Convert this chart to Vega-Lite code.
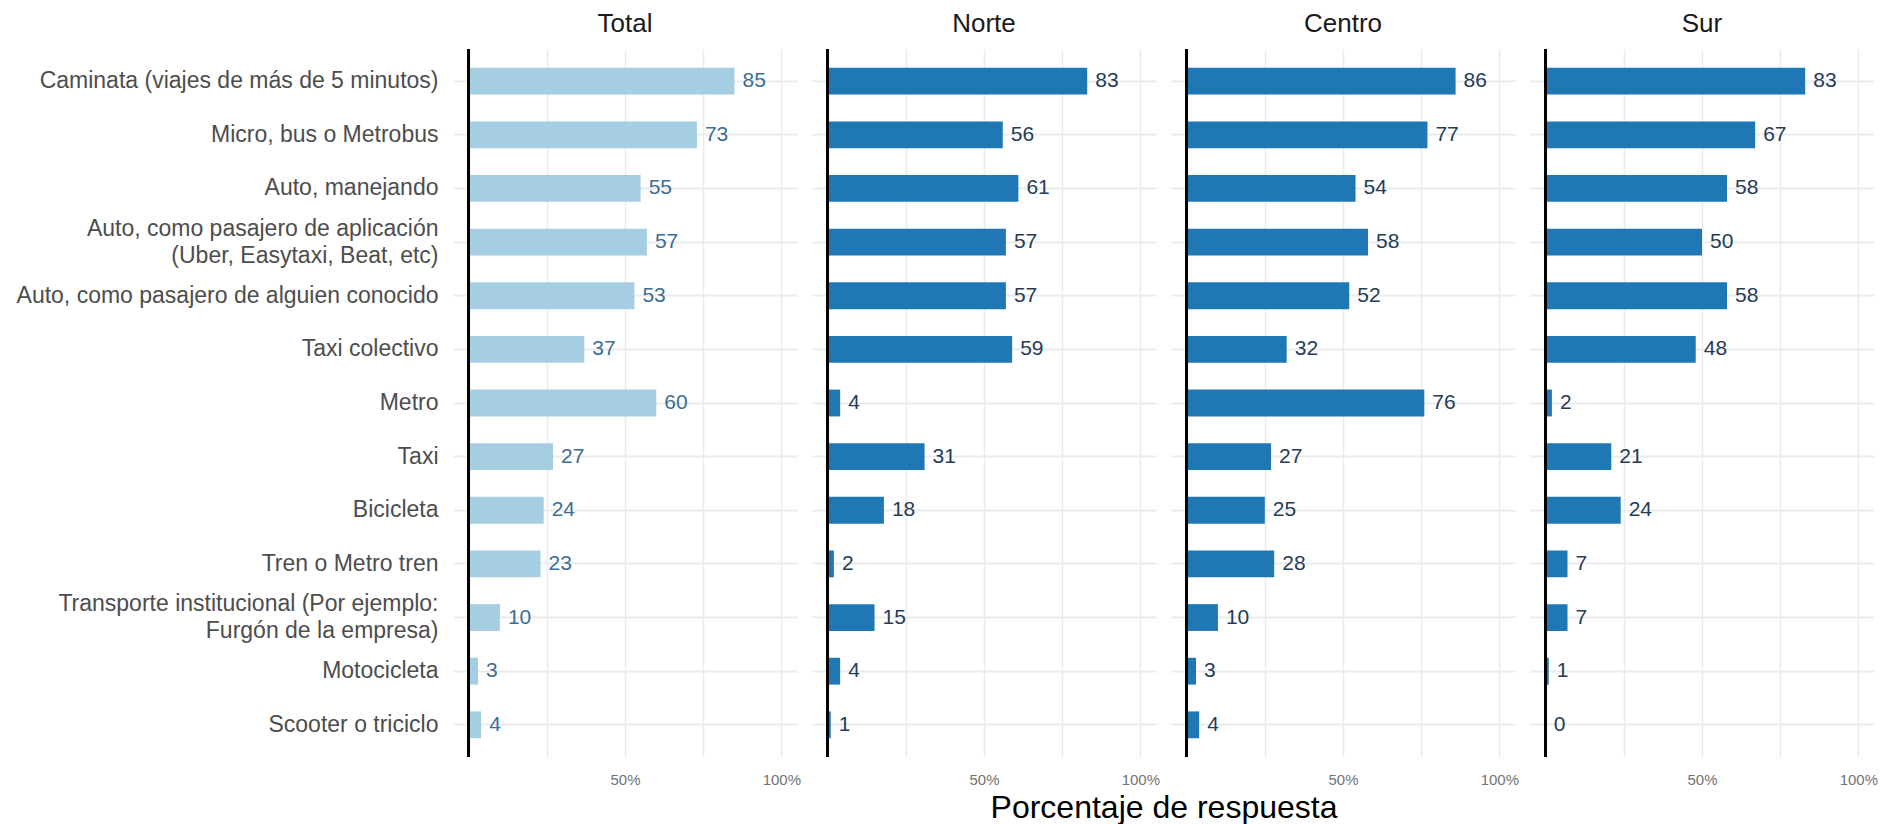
{
  "$schema": "https://vega.github.io/schema/vega-lite/v6.json",
  "padding": {"left": 16, "top": 11, "right": 5, "bottom": 0},
  "background": "white",
  "data": {"values": [
    {"modo": "Caminata (viajes de más de 5 minutos)", "region": "Total", "pct": 85},
    {"modo": "Micro, bus o Metrobus", "region": "Total", "pct": 73},
    {"modo": "Auto, manejando", "region": "Total", "pct": 55},
    {"modo": "Auto, como pasajero de aplicación\n(Uber, Easytaxi, Beat, etc)", "region": "Total", "pct": 57},
    {"modo": "Auto, como pasajero de alguien conocido", "region": "Total", "pct": 53},
    {"modo": "Taxi colectivo", "region": "Total", "pct": 37},
    {"modo": "Metro", "region": "Total", "pct": 60},
    {"modo": "Taxi", "region": "Total", "pct": 27},
    {"modo": "Bicicleta", "region": "Total", "pct": 24},
    {"modo": "Tren o Metro tren", "region": "Total", "pct": 23},
    {"modo": "Transporte institucional (Por ejemplo:\nFurgón de la empresa)", "region": "Total", "pct": 10},
    {"modo": "Motocicleta", "region": "Total", "pct": 3},
    {"modo": "Scooter o triciclo", "region": "Total", "pct": 4},
    {"modo": "Caminata (viajes de más de 5 minutos)", "region": "Norte", "pct": 83},
    {"modo": "Micro, bus o Metrobus", "region": "Norte", "pct": 56},
    {"modo": "Auto, manejando", "region": "Norte", "pct": 61},
    {"modo": "Auto, como pasajero de aplicación\n(Uber, Easytaxi, Beat, etc)", "region": "Norte", "pct": 57},
    {"modo": "Auto, como pasajero de alguien conocido", "region": "Norte", "pct": 57},
    {"modo": "Taxi colectivo", "region": "Norte", "pct": 59},
    {"modo": "Metro", "region": "Norte", "pct": 4},
    {"modo": "Taxi", "region": "Norte", "pct": 31},
    {"modo": "Bicicleta", "region": "Norte", "pct": 18},
    {"modo": "Tren o Metro tren", "region": "Norte", "pct": 2},
    {"modo": "Transporte institucional (Por ejemplo:\nFurgón de la empresa)", "region": "Norte", "pct": 15},
    {"modo": "Motocicleta", "region": "Norte", "pct": 4},
    {"modo": "Scooter o triciclo", "region": "Norte", "pct": 1},
    {"modo": "Caminata (viajes de más de 5 minutos)", "region": "Centro", "pct": 86},
    {"modo": "Micro, bus o Metrobus", "region": "Centro", "pct": 77},
    {"modo": "Auto, manejando", "region": "Centro", "pct": 54},
    {"modo": "Auto, como pasajero de aplicación\n(Uber, Easytaxi, Beat, etc)", "region": "Centro", "pct": 58},
    {"modo": "Auto, como pasajero de alguien conocido", "region": "Centro", "pct": 52},
    {"modo": "Taxi colectivo", "region": "Centro", "pct": 32},
    {"modo": "Metro", "region": "Centro", "pct": 76},
    {"modo": "Taxi", "region": "Centro", "pct": 27},
    {"modo": "Bicicleta", "region": "Centro", "pct": 25},
    {"modo": "Tren o Metro tren", "region": "Centro", "pct": 28},
    {"modo": "Transporte institucional (Por ejemplo:\nFurgón de la empresa)", "region": "Centro", "pct": 10},
    {"modo": "Motocicleta", "region": "Centro", "pct": 3},
    {"modo": "Scooter o triciclo", "region": "Centro", "pct": 4},
    {"modo": "Caminata (viajes de más de 5 minutos)", "region": "Sur", "pct": 83},
    {"modo": "Micro, bus o Metrobus", "region": "Sur", "pct": 67},
    {"modo": "Auto, manejando", "region": "Sur", "pct": 58},
    {"modo": "Auto, como pasajero de aplicación\n(Uber, Easytaxi, Beat, etc)", "region": "Sur", "pct": 50},
    {"modo": "Auto, como pasajero de alguien conocido", "region": "Sur", "pct": 58},
    {"modo": "Taxi colectivo", "region": "Sur", "pct": 48},
    {"modo": "Metro", "region": "Sur", "pct": 2},
    {"modo": "Taxi", "region": "Sur", "pct": 21},
    {"modo": "Bicicleta", "region": "Sur", "pct": 24},
    {"modo": "Tren o Metro tren", "region": "Sur", "pct": 7},
    {"modo": "Transporte institucional (Por ejemplo:\nFurgón de la empresa)", "region": "Sur", "pct": 7},
    {"modo": "Motocicleta", "region": "Sur", "pct": 1},
    {"modo": "Scooter o triciclo", "region": "Sur", "pct": 0}
  ]},
  "facet": {
    "column": {
      "field": "region",
      "type": "nominal",
      "sort": ["Total", "Norte", "Centro", "Sur"],
      "title": "Porcentaje de respuesta",
      "header": {
        "titleOrient": "bottom",
        "titleFont": "Liberation Sans",
        "titleFontSize": 32,
        "titleFontWeight": "normal",
        "titleColor": "#000000",
        "titlePadding": -4,
        "labelOrient": "top",
        "labelFont": "Liberation Sans",
        "labelFontSize": 26,
        "labelColor": "#1a1a1a",
        "labelPadding": 10
      }
    }
  },
  "spacing": 15,
  "spec": {
    "width": 344,
    "height": 708,
    "encoding": {
      "y": {
        "field": "modo",
        "type": "nominal",
        "sort": null,
        "scale": {"paddingInner": 0.5, "paddingOuter": 0.35},
        "axis": {
          "title": null,
          "ticks": false,
          "domain": false,
          "labelFont": "Liberation Sans",
          "labelFontSize": 23,
          "labelColor": "#4d4d4d",
          "labelPadding": 15,
          "labelLimit": 0,
          "labelLineHeight": 27,
          "labelExpr": "split(datum.label, '\\n')",
          "labelOffset": {"condition": {"test": "indexof(datum.label, '\\n') >= 0", "value": -13.5}, "value": 0},
          "grid": true,
          "gridColor": "#ebebeb",
          "gridWidth": 2,
          "bandPosition": 0.5,
          "minExtent": 434,
          "maxExtent": 434
        }
      },
      "x": {
        "field": "pct",
        "type": "quantitative",
        "scale": {"domain": [-5, 105], "nice": false, "zero": false},
        "axis": {
          "title": null,
          "values": [0, 25, 50, 75, 100],
          "labelExpr": "datum.value == 50 || datum.value == 100 ? datum.value + '%' : ''",
          "ticks": false,
          "domain": false,
          "labelFont": "Liberation Sans",
          "labelFontSize": 15,
          "labelColor": "#737373",
          "labelPadding": 13,
          "grid": true,
          "gridColor": "#ebebeb",
          "gridWidth": 1.5
        }
      }
    },
    "layer": [
      {
        "mark": {"type": "bar"},
        "encoding": {
          "color": {
            "condition": {"test": "datum.region === 'Total'", "value": "#a6cee3"},
            "value": "#1f78b4"
          }
        }
      },
      {
        "mark": {"type": "text", "align": "left", "baseline": "middle", "dx": 8, "font": "Liberation Sans", "fontSize": 21},
        "encoding": {
          "text": {"field": "pct", "type": "quantitative"},
          "color": {
            "condition": {"test": "datum.region === 'Total'", "value": "#3b6e96"},
            "value": "#253c58"
          }
        }
      },
      {
        "mark": {"type": "rule", "color": "#000000", "strokeWidth": 2.5},
        "encoding": {"x": {"datum": 0}, "y": null}
      }
    ]
  },
  "config": {
    "view": {"stroke": null}
  }
}
